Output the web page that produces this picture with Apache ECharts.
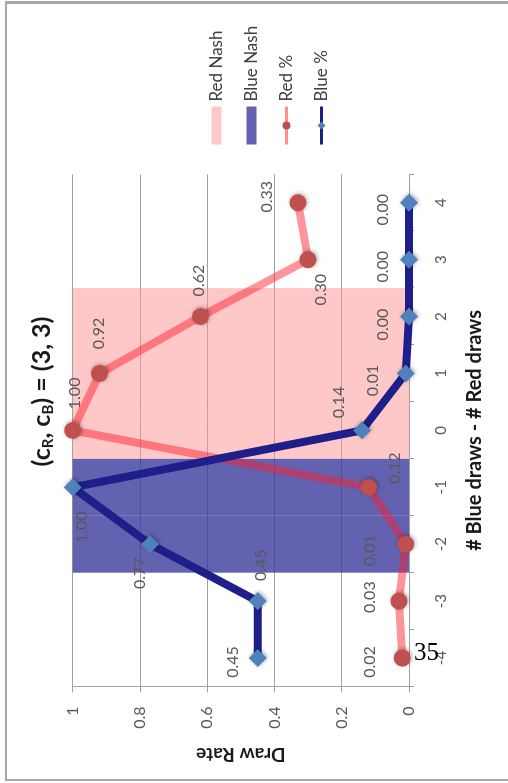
<!DOCTYPE html>
<html>
<head>
<meta charset="utf-8">
<script src="https://cdn.jsdelivr.net/npm/echarts@6/dist/echarts.min.js"></script>
<style>
  html, body { margin: 0; padding: 0; background: #fff; }
  body { width: 508px; height: 783px; overflow: hidden; position: relative; }
  #chart { position: absolute; left: 0; top: 0; width: 783px; height: 508px;
           transform-origin: 0 0; transform: translateY(783px) rotate(-90deg); }
  #frame { position: absolute; left: 5px; top: 1px; width: 520px; height: 775px;
           border-left: 2px solid #a8a8a8; border-top: 3px solid #a8a8a8; border-bottom: 2px solid #a8a8a8; }
  #pagenum { position: absolute; left: 414px; top: 638px; font-family: "Liberation Serif", "DejaVu Serif", serif;
             font-size: 25px; color: #000; }
</style>
</head>
<body>
<div id="frame"></div>
<div id="chart"></div>
<div id="pagenum">35</div>
<script>
const categories = ['-4', '-3', '-2', '-1', '0', '1', '2', '3', '4'];
const redPct  = [0.02, 0.03, 0.01, 0.12, 1.00, 0.92, 0.62, 0.30, 0.33];
const bluePct = [0.45, 0.45, 0.77, 1.00, 0.14, 0.01, 0.00, 0.00, 0.00];
const redNash  = [null, null, null, null, 1, 1, 1, null, null];
const blueNash = [null, null, 1, 1, null, null, null, null, null];
const valueTicks = { min: 0, max: 1, interval: 0.2 };

// label placement (layout only)
const redLabelOffsets  = [[-4,-32],[4,-29],[-6,-36],[19,26],[37,2],[40,-1],[36,-2],[-30,13],[6,-31]];
const blueLabelOffsets = [[-4,-25],[36,3],[-29,-10],[-40,9],[28,-23],[-7,-33],[-8,-26],[-7,-26],[-7,-26]];

const FONT = 'Lato';
const chart = echarts.init(document.getElementById('chart'));

const labelBase = {
  show: true, position: 'inside', fontFamily: FONT, fontSize: 16, color: '#595959',
  formatter: p => Number(p.value).toFixed(2)
};

chart.setOption({
  animation: false,
  backgroundColor: 'transparent',
  title: {
    text: '(c{s|R}, c{s|B}) = (3, 3)',
    left: 'center', top: 22,
    textStyle: {
      fontFamily: FONT, fontWeight: 'bold', fontSize: 25, color: '#1a1a1a',
      rich: { s: { fontFamily: FONT, fontWeight: 'bold', fontSize: 15, color: '#1a1a1a', padding: [14, 0, 0, 0] } }
    }
  },
  legend: {
    orient: 'vertical', left: 632, top: 203, itemWidth: 38, itemHeight: 10, itemGap: 18,
    textStyle: { fontFamily: FONT, fontSize: 17, color: '#404040' },
    data: [
      { name: 'Red Nash', icon: 'rect' },
      { name: 'Blue Nash', icon: 'rect' },
      { name: 'Red %', lineStyle: { width: 3, color: '#ff9090' } },
      { name: 'Blue %', lineStyle: { width: 3 } }
    ]
  },
  grid: { left: 96.5, right: 174.3, top: 72.7, bottom: 99, containLabel: false },
  xAxis: {
    type: 'category', data: categories, boundaryGap: true,
    name: '# Blue draws - # Red draws', nameLocation: 'middle', nameGap: 56,
    nameTextStyle: { fontFamily: FONT, fontWeight: 'bold', fontSize: 20, color: '#1a1a1a' },
    axisLine: { show: true, lineStyle: { color: '#a0a0a0', width: 1 } },
    axisTick: { show: true, length: 5, lineStyle: { color: '#a0a0a0' } },
    axisLabel: { fontFamily: FONT, fontSize: 15, color: '#595959', margin: 25 },
    splitLine: { show: false }
  },
  yAxis: {
    type: 'value', min: valueTicks.min, max: valueTicks.max, interval: valueTicks.interval,
    name: 'Draw Rate', nameLocation: 'middle', nameGap: 58,
    nameTextStyle: { fontFamily: FONT, fontWeight: 'bold', fontSize: 19, color: '#1a1a1a' },
    axisLine: { show: true, lineStyle: { color: '#a0a0a0', width: 1 } },
    axisTick: { show: true, length: 6, lineStyle: { color: '#a0a0a0' } },
    axisLabel: { fontFamily: FONT, fontSize: 16, color: '#595959', margin: 20 },
    splitLine: { show: true, lineStyle: { color: '#a0a0a0', width: 1 } }
  },
  series: [
    {
      name: 'Red Nash', type: 'bar', data: redNash, barWidth: '100%', barGap: '-100%',
      itemStyle: { color: 'rgba(255,145,145,0.5)' }, silent: true
    },
    {
      name: 'Blue Nash', type: 'bar', data: blueNash, barWidth: '100%', barGap: '-100%',
      itemStyle: { color: 'rgba(59,59,156,0.8)' }, silent: true
    },
    {
      name: 'Red %', type: 'line', symbol: 'circle', symbolSize: 17,
      data: redPct.map((v, i) => ({ value: v, label: { offset: redLabelOffsets[i] } })),
      lineStyle: { color: 'rgba(255,30,45,0.47)', width: 8 },
      itemStyle: { color: '#c0504d', shadowBlur: 4, shadowColor: 'rgba(0,0,0,0.35)', shadowOffsetX: 1, shadowOffsetY: 1 },
      label: labelBase
    },
    {
      name: 'Blue %', type: 'line', symbol: 'diamond', symbolSize: 18,
      data: bluePct.map((v, i) => ({ value: v, label: { offset: blueLabelOffsets[i] } })),
      lineStyle: { color: '#1f1f8c', width: 8 },
      itemStyle: { color: '#4f81bd', shadowBlur: 4, shadowColor: 'rgba(0,0,0,0.35)', shadowOffsetX: 1, shadowOffsetY: 1 },
      label: labelBase
    }
  ]
});
</script>
</body>
</html>
